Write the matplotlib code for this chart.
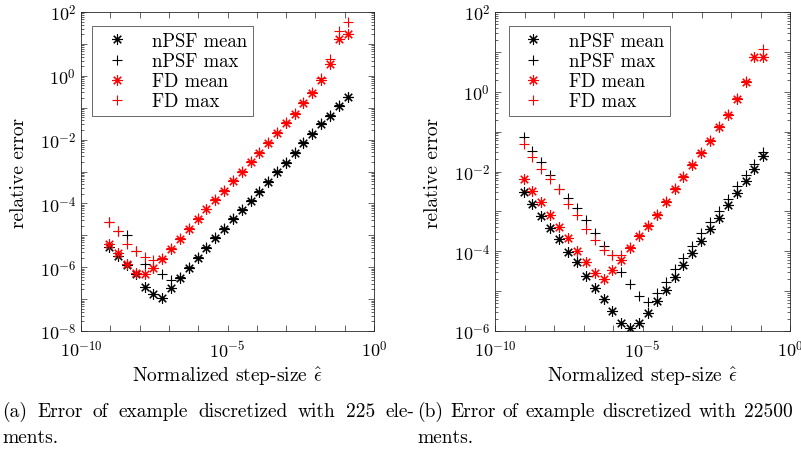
import numpy as np
import matplotlib
matplotlib.use("Agg")
import matplotlib.pyplot as plt
from matplotlib.ticker import FixedLocator, FuncFormatter, LogLocator, NullLocator

plt.rcParams["font.family"] = "serif"
plt.rcParams["font.serif"] = ["cmr10", "DejaVu Serif"]
plt.rcParams["mathtext.fontset"] = "cm"
plt.rcParams["axes.formatter.use_mathtext"] = True

# step sizes are powers of two: 2^-30 ... 2^-3
log2_step = [-30, -29, -28, -27, -26, -25, -24, -23, -22, -21, -20, -19, -18, -17,
             -16, -15, -14, -13, -12, -11, -10, -9, -8, -7, -6, -5, -4, -3]

# log10 of relative error
# (a) 225 elements
npsf_mean_a = [-5.37, -5.65, -5.93, -6.22, -6.61, -6.85, -6.95, -6.64, -6.33, -6.01,
               -5.70, -5.39, -5.07, -4.79, -4.50, -4.21, -3.92, -3.63, -3.33, -3.02,
               -2.72, -2.43, -2.12, -1.83, -1.52, -1.26, -0.95, -0.68]
npsf_max_a = [-4.57, -4.88, -5.00, -5.49, -5.91, -6.01, -6.22, -6.40, -6.30, -5.98,
              -5.67, -5.36, -5.04, -4.76, -4.47, -4.18, -3.89, -3.60, -3.30, -2.99,
              -2.69, -2.40, -2.09, -1.80, -1.49, -1.23, -0.92, -0.65]
fd_mean_a = [-5.26, -5.54, -5.89, -6.19, -6.22, -6.01, -5.73, -5.42, -5.13, -4.81,
             -4.50, -4.19, -3.90, -3.61, -3.30, -3.01, -2.69, -2.41, -2.10, -1.80,
             -1.49, -1.19, -0.86, -0.53, -0.14, 0.36, 1.14, 1.32]
fd_max_a = [-4.57, -4.88, -5.26, -5.49, -5.67, -5.77, -5.70, -5.39, -5.10, -4.78,
            -4.47, -4.16, -3.87, -3.58, -3.27, -2.98, -2.66, -2.38, -2.07, -1.77,
            -1.46, -1.16, -0.83, -0.50, -0.08, 0.52, 1.39, 1.69]

# (b) 22500 elements
npsf_mean_b = [-2.52, -2.82, -3.12, -3.41, -3.70, -4.01, -4.28, -4.61, -4.92, -5.20,
               -5.49, -5.80, -5.93, -5.79, -5.54, -5.25, -4.96, -4.64, -4.35, -4.05,
               -3.74, -3.45, -3.16, -2.85, -2.53, -2.24, -1.93, -1.62]
npsf_max_b = [-1.14, -1.49, -1.77, -2.09, -2.44, -2.67, -2.92, -3.21, -3.54, -3.86,
              -4.09, -4.51, -4.82, -5.11, -5.28, -5.05, -4.76, -4.45, -4.16, -3.86,
              -3.55, -3.27, -2.98, -2.68, -2.36, -2.08, -1.80, -1.50]
fd_mean_b = [-2.20, -2.50, -2.77, -3.10, -3.40, -3.68, -4.00, -4.28, -4.55, -4.69,
             -4.48, -4.22, -3.92, -3.61, -3.37, -3.08, -2.76, -2.44, -2.14, -1.83,
             -1.53, -1.23, -0.89, -0.58, -0.18, 0.25, 0.86, 0.86]
fd_max_b = [-1.31, -1.64, -1.93, -2.19, -2.44, -2.81, -3.10, -3.44, -3.73, -3.98,
            -4.09, -4.10, -3.90, -3.59, -3.35, -3.06, -2.74, -2.42, -2.12, -1.81,
            -1.51, -1.21, -0.87, -0.56, -0.16, 0.27, 0.88, 1.07]

labels = ["nPSF mean", "nPSF max", "FD mean", "FD max"]
caption_a = "(a) Error of example discretized with 225 ele-"
caption_b = "(b) Error of example discretized with 22500 ele-"

FS = 14
TICK_FS = 13
LEG_FS = 13.5
ASTERISK = (8, 2, 0)


def draw_panel(ax, series, ylim):
    x = 2.0 ** np.array(log2_step)
    styles = [("k", ASTERISK), ("k", "+"), ("#ff0000", ASTERISK), ("#ff0000", "+")]
    for vals, (c, m), lab in zip(series, styles, labels):
        ax.plot(x, 10.0 ** np.array(vals), linestyle="none", marker=m, color=c,
                markersize=7.5, markeredgewidth=0.8, label=lab)
    ax.set_xscale("log")
    ax.set_yscale("log")
    ax.set_xlim(1e-10, 1e0)
    ax.set_ylim(*ylim)

    ax.xaxis.set_major_locator(FixedLocator([10.0 ** k for k in range(-10, 1)]))
    ax.xaxis.set_major_formatter(FuncFormatter(
        lambda v, p: r"$10^{%d}$" % round(np.log10(v)) if round(np.log10(v)) % 5 == 0 else ""))
    ax.xaxis.set_minor_locator(NullLocator())
    ax.yaxis.set_major_locator(LogLocator(base=10, numticks=30))
    ax.yaxis.set_major_formatter(FuncFormatter(
        lambda v, p: r"$10^{%d}$" % round(np.log10(v)) if round(np.log10(v)) % 2 == 0 else ""))
    ax.yaxis.set_minor_locator(LogLocator(base=10, subs=np.arange(2, 10), numticks=30))

    ax.tick_params(which="both", direction="in", top=True, right=True,
                   width=0.5, color="#262626", labelsize=TICK_FS)
    ax.tick_params(which="major", length=4)
    ax.tick_params(which="minor", length=2)
    ax.tick_params(axis="x", pad=5.5)
    for s in ax.spines.values():
        s.set_linewidth(0.6)
        s.set_color("#262626")

    ax.set_xlabel(r"Normalized step-size $\hat{\epsilon}$", fontsize=FS, labelpad=3.5)
    ax.set_ylabel("relative error", fontsize=FS, labelpad=8)

    leg = ax.legend(loc="upper left", fontsize=LEG_FS, frameon=True, fancybox=False,
                    edgecolor="#262626", handlelength=2.0, handletextpad=0.9,
                    borderpad=0.3, labelspacing=0.12, borderaxespad=0)
    leg.get_frame().set_linewidth(0.6)
    return leg


fig = plt.figure(figsize=(8.01, 4.60), dpi=100)
W, H = 801, 460

ax_a = fig.add_axes([81 / W, 1 - 332 / H, 293 / W, 319 / H])
ax_b = fig.add_axes([495 / W, 1 - 332 / H, 295 / W, 319 / H])

leg_a = draw_panel(ax_a, [npsf_mean_a, npsf_max_a, fd_mean_a, fd_max_a], (1e-8, 1e2))
leg_a.set_bbox_to_anchor((0.039, 0.955), transform=ax_a.transAxes)
leg_b = draw_panel(ax_b, [npsf_mean_b, npsf_max_b, fd_mean_b, fd_max_b], (1e-6, 1e2))
leg_b.set_bbox_to_anchor((0.047, 0.955), transform=ax_b.transAxes)


def justified(words, x0, x1, y):
    # place words so that the line fills x0..x1 (pixels from left), y from top
    renderer = fig.canvas.get_renderer()
    texts = [fig.text(0, 1 - y / H, w, fontsize=FS, va="center") for w in words]
    widths = [t.get_window_extent(renderer).width for t in texts]
    gap = (x1 - x0 - sum(widths)) / (len(words) - 1)
    x = x0
    for t, w in zip(texts, widths):
        t.set_x(x / W)
        x += w + gap


justified(caption_a.split(), 2, 414, 412)
justified(caption_b.split(), 417, 829, 412)
fig.text(2 / W, 1 - 438 / H, "ments.", fontsize=FS, va="center")
fig.text(417 / W, 1 - 438 / H, "ments.", fontsize=FS, va="center")

fig.savefig("out.png", dpi=100)
